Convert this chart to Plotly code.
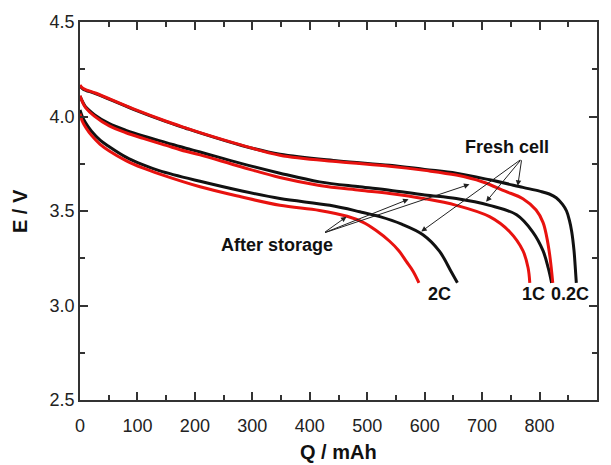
import plotly.graph_objects as go

# ---- data (Q in mAh, E in V) ----
q_02c_fresh = [0, 5, 28, 93, 150, 184, 209, 280, 348, 450, 539, 600, 655, 713, 771, 800, 817, 829, 840, 847, 852, 856, 860, 862, 864]
e_02c_fresh = [4.163, 4.146, 4.12, 4.038, 3.973, 3.938, 3.913, 3.848, 3.80, 3.765, 3.742, 3.72, 3.70, 3.665, 3.625, 3.605, 3.59, 3.57, 3.535, 3.50, 3.45, 3.39, 3.29, 3.21, 3.12]

q_02c_stored = [0, 5, 28, 93, 150, 184, 209, 280, 348, 450, 539, 600, 655, 700, 740, 771, 794, 806, 812, 818, 823]
e_02c_stored = [4.167, 4.15, 4.123, 4.04, 3.975, 3.94, 3.915, 3.85, 3.795, 3.76, 3.737, 3.715, 3.69, 3.655, 3.605, 3.565, 3.505, 3.44, 3.37, 3.26, 3.12]

q_1c_fresh = [0, 5, 10, 25, 51, 80, 110, 150, 184, 209, 280, 348, 417, 487, 539, 600, 655, 713, 760, 788, 806, 815, 821]
e_1c_fresh = [4.108, 4.075, 4.05, 4.01, 3.962, 3.927, 3.897, 3.862, 3.832, 3.812, 3.752, 3.70, 3.654, 3.628, 3.61, 3.585, 3.566, 3.53, 3.48, 3.39, 3.29, 3.20, 3.12]

q_1c_stored = [0, 5, 10, 25, 51, 80, 110, 150, 184, 209, 280, 348, 417, 487, 539, 600, 655, 713, 748, 771, 780, 783]
e_1c_stored = [4.11, 4.072, 4.046, 4.002, 3.95, 3.914, 3.884, 3.847, 3.816, 3.797, 3.734, 3.677, 3.635, 3.61, 3.593, 3.565, 3.53, 3.47, 3.39, 3.29, 3.20, 3.12]

q_2c_fresh = [0, 4, 10, 20, 35, 51, 80, 109, 139, 209, 280, 348, 435, 487, 522, 560, 597, 626, 646, 657]
e_2c_fresh = [4.035, 4.0, 3.965, 3.922, 3.875, 3.84, 3.785, 3.745, 3.712, 3.657, 3.607, 3.566, 3.53, 3.496, 3.47, 3.43, 3.374, 3.286, 3.18, 3.12]

q_2c_stored = [0, 4, 10, 20, 35, 51, 80, 109, 139, 209, 280, 348, 417, 465, 493, 515, 539, 555, 568, 580, 590]
e_2c_stored = [4.015, 3.975, 3.942, 3.9, 3.853, 3.818, 3.767, 3.728, 3.695, 3.628, 3.575, 3.53, 3.503, 3.472, 3.44, 3.398, 3.34, 3.29, 3.233, 3.18, 3.12]

rate_labels = ["2C", "1C", "0.2C"]
rate_label_q = [626, 790, 853]
rate_label_e = [3.06, 3.06, 3.06]

x_ticks = [0, 100, 200, 300, 400, 500, 600, 700, 800, 900]
y_ticks = [2.5, 3.0, 3.5, 4.0, 4.5]

BLACK = "#111111"
RED = "#e8120f"
FONT = "Liberation Sans, Arial, sans-serif"

fig = go.Figure()
fresh = [(q_02c_fresh, e_02c_fresh), (q_1c_fresh, e_1c_fresh), (q_2c_fresh, e_2c_fresh)]
stored = [(q_02c_stored, e_02c_stored), (q_1c_stored, e_1c_stored), (q_2c_stored, e_2c_stored)]
for q, e in fresh:
    fig.add_trace(go.Scatter(x=q, y=e, mode="lines", line=dict(color=BLACK, width=3, shape="spline", smoothing=1.0),
                             showlegend=False, hoverinfo="skip"))
for q, e in stored:
    fig.add_trace(go.Scatter(x=q, y=e, mode="lines", line=dict(color=RED, width=3, shape="spline", smoothing=1.0),
                             showlegend=False, hoverinfo="skip"))

annotations = []
for lab, q, e in zip(rate_labels, rate_label_q, rate_label_e):
    annotations.append(dict(x=q, y=e, text="<b>" + lab + "</b>", showarrow=False, xref="x", yref="y",
                            font=dict(family=FONT, size=18, color="#111"), xanchor="center", yanchor="middle"))

annotations.append(dict(x=744, y=3.839, text="<b>Fresh cell</b>", showarrow=False, xref="x", yref="y",
                        font=dict(family=FONT, size=18, color="#111")))
annotations.append(dict(x=343.5, y=3.321, text="<b>After storage</b>", showarrow=False, xref="x", yref="y",
                        font=dict(family=FONT, size=18, color="#111")))

fresh_tail = (769, 3.776)
fresh_heads = [(762, 3.633), (707, 3.549), (594, 3.391)]
stored_tail = (424, 3.383)
stored_heads = [(464, 3.47), (572, 3.562), (678, 3.641)]
for (tx, ty), heads in [(fresh_tail, fresh_heads), (stored_tail, stored_heads)]:
    for hx, hy in heads:
        annotations.append(dict(x=hx, y=hy, ax=tx, ay=ty, xref="x", yref="y", axref="x", ayref="y",
                                text="", showarrow=True, arrowhead=2, arrowsize=1.1, arrowwidth=1,
                                arrowcolor="#222", standoff=0, startstandoff=0))

annotations.append(dict(x=0.5, y=-0.137, xref="paper", yref="paper", text="<b>Q / mAh</b>", showarrow=False,
                        font=dict(family=FONT, size=20, color="#111"), xanchor="center", yanchor="middle"))
annotations.append(dict(x=-0.116, y=0.5, xref="paper", yref="paper", text="<b>E / V</b>", showarrow=False,
                        textangle=-90, font=dict(family=FONT, size=20, color="#111"), xanchor="center", yanchor="middle"))

axis_common = dict(showline=True, linecolor="#333", linewidth=1.5, mirror="ticks", ticks="inside",
                   ticklen=8, tickwidth=1.5, tickcolor="#333", showgrid=False, zeroline=False,
                   tickfont=dict(family=FONT, size=18, color="#222"))
fig.update_xaxes(range=[0, 900], tickvals=x_ticks, ticktext=[str(v) for v in x_ticks], ticklabelstandoff=9,
                 minor=dict(ticks="inside", ticklen=5, tickwidth=1.5, tickcolor="#333", dtick=50, tick0=0, showgrid=False),
                 **axis_common)
fig.update_yaxes(range=[2.5, 4.5], tickvals=y_ticks, ticktext=["%.1f" % v for v in y_ticks],
                 minor=dict(ticks="inside", ticklen=5, tickwidth=1.5, tickcolor="#333", dtick=0.25, tick0=2.5, showgrid=False),
                 **axis_common)

fig.update_layout(width=611, height=465, margin=dict(l=80, r=13, t=19, b=65),
                  plot_bgcolor="white", paper_bgcolor="white", annotations=annotations,
                  showlegend=False)
fig.write_html("out.html")
